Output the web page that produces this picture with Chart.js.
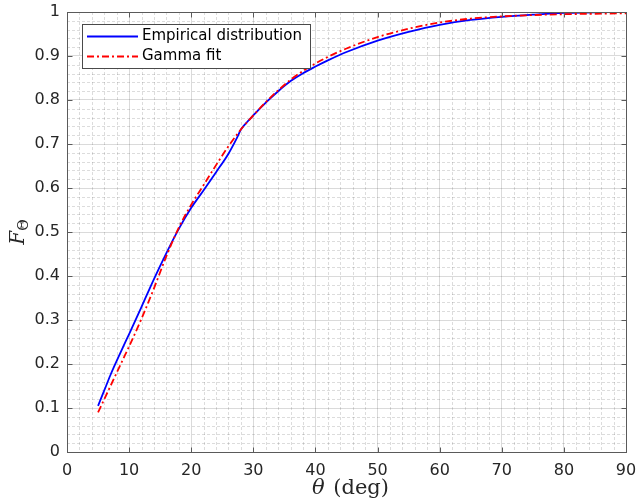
<!DOCTYPE html>
<html>
<head>
<meta charset="utf-8">
<script src="https://cdn.jsdelivr.net/npm/chart.js@4.4.0/dist/chart.umd.min.js"></script>
<style>
html,body{margin:0;padding:0;background:#fff}
#wrap{width:637px;height:504px}
</style>
</head>
<body>
<div id="wrap"><canvas id="c" width="637" height="504"></canvas></div>
<script>
// values
const thetaEmp=[5,6,7,8,9,10,12,14,16,18,20,22,24,26,27.3,28,29,30,32,34,36,38,40,42,45,50,55,60,65,70,75,80,85,90];
const cdfEmp=[0.105,0.14,0.175,0.207,0.238,0.268,0.33,0.393,0.452,0.507,0.555,0.595,0.636,0.678,0.712,0.733,0.75,0.765,0.794,0.82,0.843,0.861,0.876,0.89,0.909,0.935,0.955,0.971,0.982,0.989,0.994,0.998,0.999,1.0];
const thetaFit=[5,6,7,8,9,10,12,14,16,18,20,22,24,26,28,30,32,34,36,38,40,42,45,50,55,60,65,70,75,80,85,90];
const cdfFit=[0.09,0.12,0.15,0.18,0.21,0.24,0.303,0.372,0.445,0.51,0.562,0.607,0.652,0.695,0.733,0.765,0.795,0.822,0.846,0.866,0.883,0.898,0.917,0.943,0.962,0.976,0.985,0.99,0.993,0.995,0.996,0.997];
const xTicks=[0,10,20,30,40,50,60,70,80,90];
const yTicks=[0,0.1,0.2,0.3,0.4,0.5,0.6,0.7,0.8,0.9,1];
const seriesNames=['Empirical distribution','Gamma fit'];

const axisCol='#262626';

const frame={
  id:'frame',
  beforeDatasetsDraw(chart){
    const {ctx,chartArea:a,scales:{x,y}}=chart;
    ctx.save();
    ctx.strokeStyle='rgba(38,38,38,0.16)';
    ctx.lineWidth=1;
    ctx.setLineDash([3,2]);
    ctx.beginPath();
    for(let v=0;v<=90;v+=2){
      if(v%10===0) continue;
      const px=Math.round(x.getPixelForValue(v))+0.5;
      ctx.moveTo(px,a.top);ctx.lineTo(px,a.bottom);
    }
    for(let k=0;k<=50;k++){
      if(k%5===0) continue;
      const py=Math.round(y.getPixelForValue(k*0.02))+0.5;
      ctx.moveTo(a.left,py);ctx.lineTo(a.right,py);
    }
    ctx.stroke();
    ctx.restore();
  },
  afterDatasetsDraw(chart){
    const {ctx,chartArea:a,scales:{x,y}}=chart;
    ctx.save();
    ctx.strokeStyle='#5a5a5a';
    ctx.lineWidth=1;
    ctx.setLineDash([]);
    const L=Math.round(a.left)+0.5,R=Math.round(a.right)+0.5,T=Math.round(a.top)+0.5,B=Math.round(a.bottom)+0.5;
    ctx.strokeRect(L,T,R-L,B-T);
    ctx.beginPath();
    const tl=5;
    xTicks.forEach(v=>{
      const px=Math.round(x.getPixelForValue(v))+0.5;
      ctx.moveTo(px,B);ctx.lineTo(px,B-tl);
      ctx.moveTo(px,T);ctx.lineTo(px,T+tl);
    });
    yTicks.forEach(v=>{
      const py=Math.round(y.getPixelForValue(v))+0.5;
      ctx.moveTo(L,py);ctx.lineTo(L+tl,py);
      ctx.moveTo(R,py);ctx.lineTo(R-tl,py);
    });
    ctx.stroke();

    // legend
    ctx.fillStyle='#fff';
    ctx.fillRect(82.5,24.5,228,44);
    ctx.strokeStyle='#4a4a4a';
    ctx.strokeRect(82.5,24.5,228,44);
    const rows=[36.5,56.5];
    chart.data.datasets.forEach((ds,i)=>{
      ctx.strokeStyle=ds.borderColor;
      ctx.lineWidth=ds.borderWidth;
      ctx.setLineDash(ds.borderDash||[]);
      ctx.beginPath();
      ctx.moveTo(87,rows[i]);ctx.lineTo(138,rows[i]);
      ctx.stroke();
      ctx.setLineDash([]);
      ctx.fillStyle='#000';
      ctx.font='15px "DejaVu Sans"';
      ctx.textBaseline='middle';
      ctx.textAlign='left';
      ctx.fillText(ds.label,142,rows[i]);
    });
    ctx.restore();
  },
  afterDraw(chart){
    const {ctx,chartArea:a}=chart;
    ctx.save();
    ctx.fillStyle=axisCol;
    ctx.textBaseline='alphabetic';
    // x title
    const f1='italic 21px "DejaVu Serif"',f2='21px "DejaVu Serif"';
    ctx.font=f1;const w1=ctx.measureText('\u03b8').width;
    ctx.font=f2;const w2=ctx.measureText(' (deg)').width;
    let sx=(a.left+a.right)/2-(w1+w2)/2+3;
    ctx.font=f1;ctx.fillText('\u03b8',sx,494);
    ctx.font=f2;ctx.fillText(' (deg)',sx+w1+2,494);
    // y title
    ctx.translate(24,(a.top+a.bottom)/2);
    ctx.rotate(-Math.PI/2);
    ctx.font='italic 20px "DejaVu Serif"';
    const wf=ctx.measureText('F').width;
    ctx.font='14px "DejaVu Serif"';
    const ws=ctx.measureText('\u0398').width;
    const s0=-(wf+ws)/2;
    ctx.font='italic 20px "DejaVu Serif"';
    ctx.fillText('F',s0,0);
    ctx.font='14px "DejaVu Serif"';
    ctx.fillText('\u0398',s0+wf,4);
    ctx.restore();
  }
};

new Chart(document.getElementById('c'),{
  type:'line',
  data:{
    datasets:[
      {label:seriesNames[0],data:thetaEmp.map((t,i)=>({x:t,y:cdfEmp[i]})),borderColor:'#0000ff',borderWidth:1.8,pointRadius:0,cubicInterpolationMode:'monotone',order:2,fill:false},
      {label:seriesNames[1],data:thetaFit.map((t,i)=>({x:t,y:cdfFit[i]})),borderColor:'#ff0000',borderWidth:1.8,borderDash:[7,3,2,3],pointRadius:0,cubicInterpolationMode:'monotone',order:1,fill:false}
    ]
  },
  options:{
    responsive:false,
    animation:false,
    devicePixelRatio:1,
    layout:{padding:{left:0,right:11,top:12,bottom:0}},
    plugins:{legend:{display:false},tooltip:{enabled:false}},
    scales:{
      x:{
        type:'linear',min:0,max:90,
        afterBuildTicks:s=>{s.ticks=xTicks.map(v=>({value:v}));},
        afterFit:s=>{s.height=52;s.paddingLeft=0;s.paddingRight=0;},
        grid:{color:'rgba(38,38,38,0.17)',drawTicks:false},
        border:{display:false},
        ticks:{font:{family:'DejaVu Sans',size:16},color:axisCol,padding:9,maxRotation:0,autoSkip:false,callback:v=>String(v)}
      },
      y:{
        type:'linear',min:0,max:1,
        afterBuildTicks:s=>{s.ticks=yTicks.map(v=>({value:v}));},
        afterFit:s=>{s.width=67;s.paddingTop=0;s.paddingBottom=0;},
        grid:{color:'rgba(38,38,38,0.17)',drawTicks:false},
        border:{display:false},
        ticks:{font:{family:'DejaVu Sans',size:16},color:axisCol,padding:7,autoSkip:false,callback:v=>String(+v.toFixed(1))}
      }
    }
  },
  plugins:[frame]
});
</script>
</body>
</html>
